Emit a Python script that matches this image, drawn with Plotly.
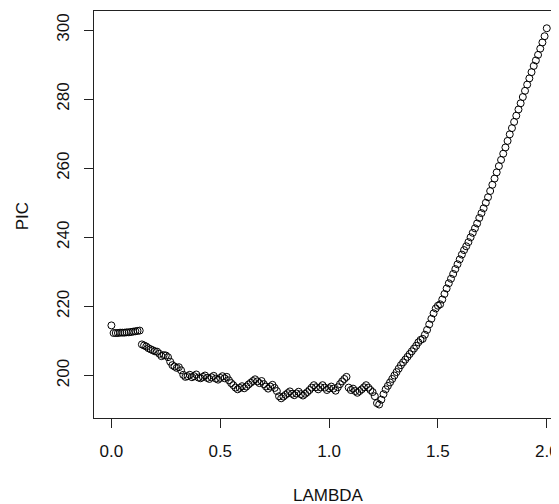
import plotly.graph_objects as go

# LAMBDA grid (0 to 2 by 0.01)
lambda_vals = [round(i * 0.01, 2) for i in range(201)]

# PIC values, one row per 0.1 of LAMBDA
pic_00 = [214.5, 212.3, 212.3, 212.3, 212.4, 212.4, 212.4, 212.5, 212.5, 212.6]
pic_01 = [212.7, 212.8, 212.9, 213.0, 209.0, 208.7, 208.4, 207.9, 207.6, 207.3]
pic_02 = [207.0, 206.9, 206.3, 205.6, 205.9, 205.8, 205.3, 204.0, 203.0, 202.6]
pic_03 = [202.2, 202.4, 201.5, 200.2, 199.6, 199.8, 200.2, 199.5, 199.8, 200.3]
pic_04 = [199.4, 199.2, 199.6, 200.0, 199.3, 199.0, 199.5, 199.9, 199.1, 198.8]
pic_05 = [199.3, 199.8, 199.2, 199.6, 198.6, 197.8, 197.2, 196.5, 196.0, 196.4]
pic_06 = [196.9, 196.3, 196.8, 197.4, 197.9, 198.4, 198.9, 198.3, 197.8, 198.4]
pic_07 = [197.5, 196.8, 196.2, 196.8, 197.3, 196.4, 195.5, 194.0, 193.4, 193.9]
pic_08 = [194.4, 194.9, 195.4, 194.7, 194.3, 194.8, 195.3, 194.6, 194.2, 194.7]
pic_09 = [195.2, 195.8, 196.5, 197.2, 196.6, 196.0, 196.6, 197.2, 196.5, 195.8]
pic_10 = [196.3, 196.8, 196.2, 195.6, 196.6, 197.5, 198.3, 199.0, 199.6, 196.5]
pic_11 = [195.8, 196.2, 195.5, 195.0, 195.5, 196.0, 196.6, 197.2, 196.5, 195.8]
pic_12 = [195.2, 194.0, 192.0, 191.6, 193.0, 194.6, 196.0, 197.0, 198.0, 199.0]
pic_13 = [200.0, 201.0, 202.0, 203.0, 203.8, 204.6, 205.4, 206.2, 207.0, 207.8]
pic_14 = [208.6, 209.6, 210.3, 210.6, 211.8, 213.2, 214.8, 216.4, 218.0, 219.4]
pic_15 = [220.2, 220.6, 222.0, 223.6, 225.2, 226.7, 228.0, 229.4, 230.8, 232.2]
pic_16 = [233.6, 235.0, 236.3, 237.4, 238.6, 240.0, 241.3, 242.6, 244.0, 245.6]
pic_17 = [247.0, 248.4, 250.0, 251.6, 253.4, 255.2, 257.0, 258.8, 260.6, 262.4]
pic_18 = [264.2, 266.0, 267.9, 269.8, 271.6, 273.4, 275.2, 277.0, 278.8, 280.6]
pic_19 = [282.4, 284.2, 286.0, 287.8, 289.6, 291.2, 292.8, 294.6, 296.4, 298.2]
pic_20 = [300.5]

pic_vals = (pic_00 + pic_01 + pic_02 + pic_03 + pic_04 + pic_05 + pic_06 + pic_07
            + pic_08 + pic_09 + pic_10 + pic_11 + pic_12 + pic_13 + pic_14
            + pic_15 + pic_16 + pic_17 + pic_18 + pic_19 + pic_20)

x_ticks = [0.0, 0.5, 1.0, 1.5, 2.0]
x_tick_labels = ["0.0", "0.5", "1.0", "1.5", "2.0"]
y_ticks = [200, 220, 240, 260, 280, 300]
y_tick_labels = ["200", "220", "240", "260", "280", "300"]

FONT = "Liberation Sans, Arial, sans-serif"
INK = "#111111"

# The page body has an 8px default margin, so the figure is drawn 8px in from
# the window's top-left corner; size and margins compensate for that.
OFF = 8
W, H = 559 - OFF, 504 - OFF
ML, MT, MB = 94 - OFF, 11 - OFF, 86
pw = W - ML
ph = H - MT - MB

fig = go.Figure()
fig.add_trace(go.Scatter(
    x=lambda_vals, y=pic_vals, mode="markers",
    marker=dict(symbol="circle-open", size=7, color="black", line=dict(width=1, color="black")),
    showlegend=False, hoverinfo="x+y",
))


def px_to_paper(px, py):
    fx = px - OFF
    fy = py - OFF
    return (fx - ML) / pw, (H - MB - fy) / ph


lx, ly = px_to_paper(330, 495)
px_, py_ = px_to_paper(22, 216)

fig.update_layout(
    width=W, height=H,
    margin=dict(l=ML, r=0, t=MT, b=MB, pad=0),
    paper_bgcolor="white", plot_bgcolor="white",
    font=dict(family=FONT, size=17, color=INK),
    xaxis=dict(
        range=[-0.08, 2.047], tickvals=x_ticks, ticktext=x_tick_labels,
        showgrid=False, zeroline=False, showline=True, linecolor="#222", linewidth=1,
        mirror=True, ticks="outside", ticklen=9, tickcolor="#222", tickwidth=1,
        ticklabelstandoff=9, ticklabeloverflow="allow",
    ),
    yaxis=dict(
        range=[187.7, 305.5], tickvals=y_ticks, ticktext=y_tick_labels,
        showgrid=False, zeroline=False, showline=True, linecolor="#222", linewidth=1,
        ticks="outside", ticklen=9, tickcolor="#222", tickwidth=1, tickangle=-90,
        ticklabelstandoff=8, ticklabeloverflow="allow",
    ),
    annotations=[
        dict(text="LAMBDA", x=lx, y=ly, xref="paper", yref="paper", showarrow=False,
             xanchor="center", yanchor="middle",
             font=dict(family=FONT, size=17, color=INK)),
        dict(text="PIC", x=px_, y=py_, xref="paper", yref="paper", showarrow=False,
             textangle=-90, xanchor="center", yanchor="middle",
             font=dict(family=FONT, size=17, color=INK)),
    ],
)

fig.write_html("out.html")
